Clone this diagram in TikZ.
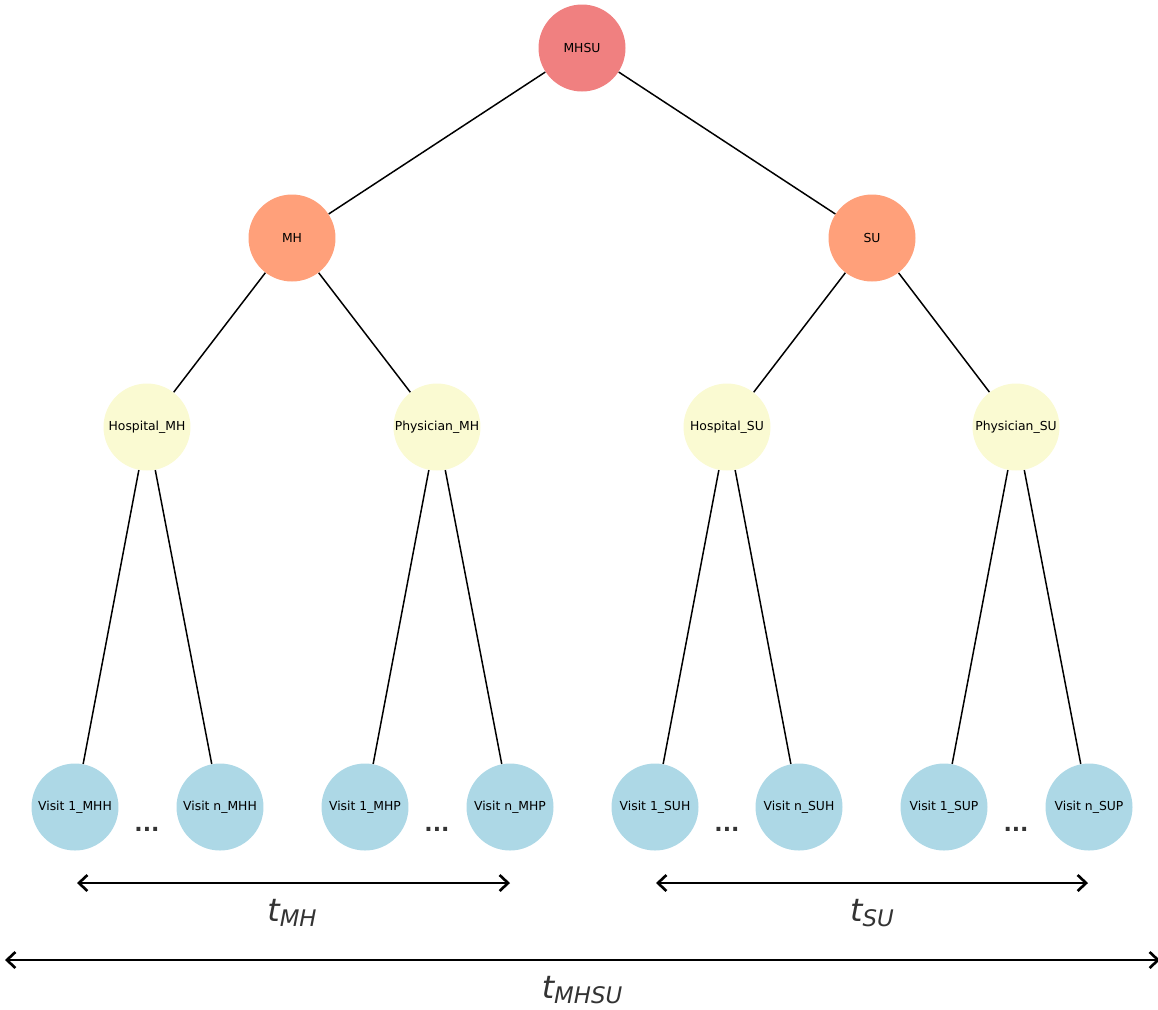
\documentclass[tikz,border=0pt]{standalone}
\usepackage{fontspec}
\setmainfont{DejaVu Sans}
\usepackage{xcolor}
\usetikzlibrary{arrows.meta}
\definecolor{topc}{HTML}{F08080}
\definecolor{midc}{HTML}{FFA07A}
\definecolor{lowc}{HTML}{FAFAD2}
\definecolor{leafc}{HTML}{ADD8E6}
\definecolor{txtg}{HTML}{333333}
\tikzset{
  nd/.style={circle,minimum size=1.74cm,inner sep=0pt},
  lab/.style={font=\fontsize{7.05}{9}\selectfont,inner sep=0pt},
  edge/.style={line width=0.85pt,black},
  span/.style={{Straight Barb[length=1.7mm,width=3.2mm]}-{Straight Barb[length=1.7mm,width=3.2mm]},line width=1.5pt},
  dots/.style={text=txtg,font=\fontsize{12.5}{14}\selectfont\bfseries},
  tlab/.style={text=txtg,font=\fontsize{18}{20}\selectfont\itshape}
}
\newcommand{\tsub}[1]{t\raisebox{-0.3ex}{\fontsize{13}{14}\selectfont #1}}
\begin{document}
\begin{tikzpicture}[x=0.02cm,y=-0.02cm]
\useasboundingbox (0,0) rectangle (1158,1009);
\node[nd,fill=topc,label={[lab]center:MHSU}] (mhsu) at (582,48) {};
\node[nd,fill=midc,label={[lab]center:MH}] (mh) at (292,238) {};
\node[nd,fill=midc,label={[lab]center:SU}] (su) at (872,238) {};
\node[nd,fill=lowc,label={[lab]center:Hospital\_MH}] (hmh) at (147,427) {};
\node[nd,fill=lowc,label={[lab]center:Physician\_MH}] (pmh) at (437,427) {};
\node[nd,fill=lowc,label={[lab]center:Hospital\_SU}] (hsu) at (727,427) {};
\node[nd,fill=lowc,label={[lab]center:Physician\_SU}] (psu) at (1016,427) {};
\foreach \nm/\xx/\txt in {v1mhh/75/Visit 1\_MHH,vnmhh/220/Visit n\_MHH,
  v1mhp/365/Visit 1\_MHP,vnmhp/510/Visit n\_MHP,v1suh/655/Visit 1\_SUH,
  vnsuh/799/Visit n\_SUH,v1sup/944/Visit 1\_SUP,vnsup/1089/Visit n\_SUP}
  \node[nd,fill=leafc,label={[lab]center:\txt}] (\nm) at (\xx,807) {};
\foreach \p/\c in {mhsu/mh,mhsu/su,mh/hmh,mh/pmh,su/hsu,su/psu,
  hmh/v1mhh,hmh/vnmhh,pmh/v1mhp,pmh/vnmhp,hsu/v1suh,hsu/vnsuh,psu/v1sup,psu/vnsup}
  \draw[edge] (\p) -- (\c);
\foreach \xx [count=\i] in {147,437,727,1016}
  \node[dots] (dt\i) at (\xx,829) {...};
% time spans
\coordinate (mhl) at (77,883);
\coordinate (mhr) at (510,883);
\coordinate (sul) at (656,883);
\coordinate (sur) at (1088,883);
\coordinate (alll) at (5,960);
\coordinate (allr) at (1160,960);
\draw[span] (mhl) -- (mhr);
\draw[span] (sul) -- (sur);
\draw[span] (alll) -- (allr);
\node[tlab] (tmh) at (292,913) {\tsub{MH}};
\node[tlab] (tsu) at (872,913) {\tsub{SU}};
\node[tlab] (tall) at (582,990) {\tsub{MHSU}};
\end{tikzpicture}
\end{document}
